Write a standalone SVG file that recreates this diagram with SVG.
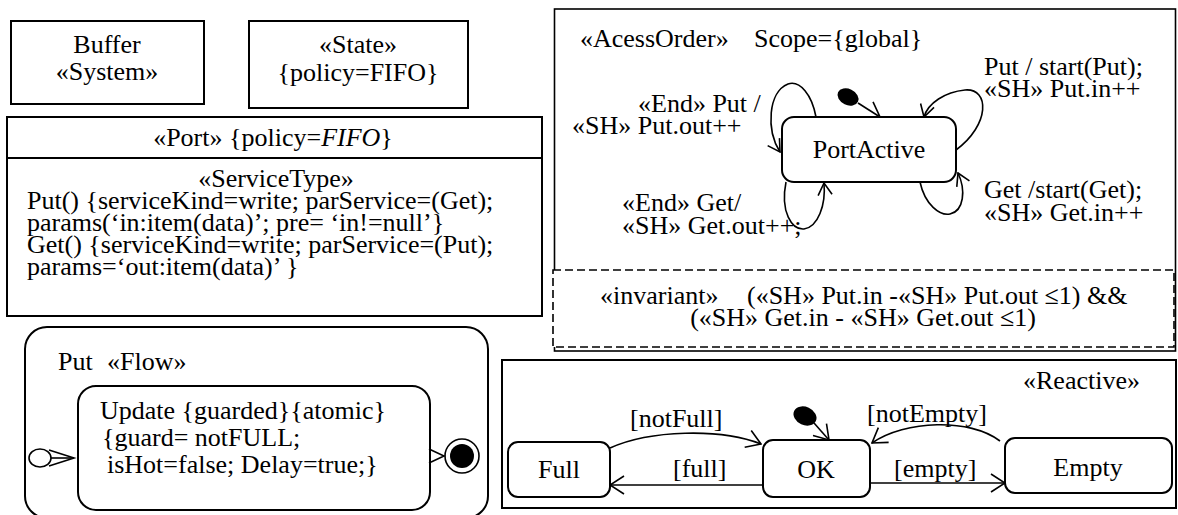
<svg xmlns="http://www.w3.org/2000/svg" width="1178" height="515" viewBox="0 0 1178 515">
  <style>
    .t { font-family: "Liberation Serif", "Times New Roman", serif; font-size: 26px; fill: #000; }
    .c { text-anchor: middle; }
    .box { fill: #fff; stroke: #000; stroke-width: 2; }
    .thin { fill: none; stroke: #000; stroke-width: 1.6; }
    .dash { fill: #fff; stroke: #000; stroke-width: 1.6; stroke-dasharray: 8 4; }
    .edge { fill: none; stroke: #000; stroke-width: 1.6; }
    .arrow { marker-end: url(#open); }
    .loop { marker-end: url(#openS); }
  </style>
  <defs>
    <marker id="open" viewBox="0 0 16 20" refX="15" refY="10" markerWidth="16" markerHeight="20" markerUnits="userSpaceOnUse" orient="auto">
      <path d="M1,1 L15,10 L1,19" fill="none" stroke="#000" stroke-width="1.6"/>
    </marker>
    <marker id="openS" viewBox="0 0 14 16" refX="13" refY="8" markerWidth="14" markerHeight="16" markerUnits="userSpaceOnUse" orient="auto">
      <path d="M1,1 L13,8 L1,15" fill="none" stroke="#000" stroke-width="1.6"/>
    </marker>
  </defs>

  <rect width="1178" height="515" fill="#fff"/>

  <!-- system block -->
  <g id="buffer">
    <rect class="box" x="11" y="21" width="193" height="83"/>
    <text class="t c" x="107" y="53">Buffer</text>
    <text class="t c" x="107" y="80">«System»</text>
  </g>

  <!-- state policy block -->
  <g id="state">
    <rect class="box" x="249" y="21" width="219" height="87"/>
    <text class="t c" x="358" y="53">«State»</text>
    <text class="t c" x="358" y="81">{policy=FIFO}</text>
  </g>

  <!-- port with its service types -->
  <g id="port">
    <rect class="box" x="7" y="117" width="535" height="199"/>
    <line x1="7" y1="158" x2="542" y2="158" stroke="#000" stroke-width="2"/>
    <text class="t c" x="273" y="146">«Port» {policy=<tspan font-style="italic">FIFO</tspan>}</text>
    <text class="t c" x="276" y="187">«ServiceType»</text>
    <text class="t" x="27" y="209">Put() {serviceKind=write; parService=(Get);</text>
    <text class="t" x="27" y="231">params(‘in:item(data)’; pre= ‘in!=null’}</text>
    <text class="t" x="27" y="253">Get() {serviceKind=write; parService=(Put);</text>
    <text class="t" x="27" y="275">params=‘out:item(data)’ }</text>
  </g>

  <!-- access order state machine -->
  <g id="access-order">
    <rect class="thin" x="554.5" y="9" width="621" height="342"/>
    <text class="t" x="580" y="47">«AcessOrder»</text>
    <text class="t" x="754" y="47">Scope={global}</text>
  </g>

  <g id="port-active">
    <rect class="box" x="782" y="117" width="174" height="65" rx="12"/>
    <text class="t c" x="869" y="158">PortActive</text>
  </g>

  <g id="access-initial">
    <ellipse cx="848" cy="97" rx="11" ry="8" transform="rotate(25 848 97)" fill="#000"/>
  </g>

  <g id="invariant">
    <rect class="dash" x="553" y="270" width="621" height="77"/>
    <text class="t" x="600" y="304">«invariant»</text>
    <text class="t" x="747" y="304">(«SH» Put.in -«SH» Put.out ≤1) &amp;&amp;</text>
    <text class="t c" x="863" y="326">(«SH» Get.in - «SH» Get.out ≤1)</text>
  </g>

  <!-- Put flow -->
  <g id="put-flow">
    <rect class="box" x="25" y="327" width="463" height="191" rx="22"/>
    <text class="t" x="58" y="370">Put</text>
    <text class="t" x="107" y="370">«Flow»</text>
  </g>

  <g id="update">
    <rect class="box" x="78" y="386" width="352" height="124" rx="18"/>
    <text class="t" x="100" y="419">Update {guarded}{atomic}</text>
    <text class="t" x="102" y="446">{guard= notFULL;</text>
    <text class="t" x="107" y="473">isHot=false; Delay=true;}</text>
  </g>

  <g id="flow-initial">
    <ellipse cx="40" cy="458" rx="11" ry="9" fill="#fff" stroke="#000" stroke-width="1.6"/>
  </g>

  <g id="flow-final">
    <circle cx="462" cy="456" r="17" fill="#fff" stroke="#000" stroke-width="1.6"/>
    <circle cx="462" cy="456" r="12" fill="#000"/>
  </g>

  <!-- reactive state machine -->
  <g id="reactive">
    <rect class="box" x="502" y="360" width="674" height="148"/>
    <text class="t" x="1023" y="389">«Reactive»</text>
  </g>

  <g id="full">
    <rect class="box" x="508" y="442" width="102" height="55" rx="10"/>
    <text class="t c" x="559" y="478">Full</text>
  </g>

  <g id="ok">
    <rect class="box" x="763" y="440" width="107" height="57" rx="10"/>
    <text class="t c" x="816" y="478">OK</text>
  </g>

  <g id="empty">
    <rect class="box" x="1005" y="438" width="167" height="55" rx="10"/>
    <text class="t c" x="1088" y="476">Empty</text>
  </g>

  <g id="reactive-initial">
    <ellipse cx="805" cy="416" rx="12" ry="9" transform="rotate(25 805 416)" fill="#000"/>
  </g>

  <!-- transitions -->
  <g id="connectors">
    <!-- access order -->
    <path class="edge arrow" d="M858,103 L880,117"/>
    <path class="edge loop" d="M956,150 C990,125 990,88 965,90 C945,92 928,103 924,117"/>
    <path class="edge loop" d="M816,117 C812,95 800,80 788,84 C768,92 766,130 780,152"/>
    <path class="edge loop" d="M786,182 C780,212 792,230 804,229 C818,227 826,205 824,183"/>
    <path class="edge loop" d="M920,182 C925,205 940,216 950,214 C964,211 966,190 958,173"/>
    <text class="t" x="984" y="75">Put / start(Put);</text>
    <text class="t" x="984" y="97">«SH» Put.in++</text>
    <text class="t" x="638" y="112">«End» Put /</text>
    <text class="t" x="572" y="134">«SH» Put.out++</text>
    <text class="t" x="984" y="198">Get /start(Get);</text>
    <text class="t" x="984" y="221">«SH» Get.in++</text>
    <text class="t" x="622" y="211">«End» Get/</text>
    <text class="t" x="622" y="234">«SH» Get.out++;</text>

    <!-- flow -->
    <line class="edge" x1="51" y1="458" x2="74" y2="458"/>
    <polyline class="edge" points="49,450 74,458 49,466"/>
    <polyline class="edge" points="429,449 444,456 429,463"/>

    <!-- reactive -->
    <path class="edge arrow" d="M814,423 L829,440"/>
    <path class="edge arrow" d="M610,448 C650,430 720,428 761,444"/>
    <path class="edge arrow" d="M762,485 L610,485"/>
    <path class="edge arrow" d="M870,483 L1005,483"/>
    <path class="edge arrow" d="M1000,441 C970,418 905,420 872,443"/>
    <text class="t" x="630" y="427">[notFull]</text>
    <text class="t" x="673" y="477">[full]</text>
    <text class="t" x="894" y="477">[empty]</text>
    <text class="t" x="867" y="422">[notEmpty]</text>
  </g>
</svg>
